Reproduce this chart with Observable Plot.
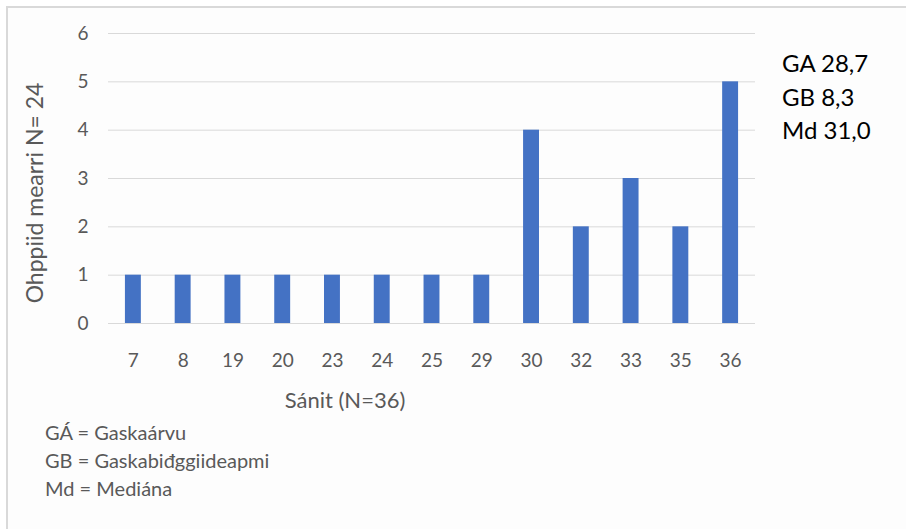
<!DOCTYPE html>
<html>
<head>
<meta charset="utf-8">
<script src="https://cdn.jsdelivr.net/npm/d3@7"></script>
<script src="https://cdn.jsdelivr.net/npm/@observablehq/plot@0.6"></script>
<style>
  html, body { margin: 0; padding: 0; background: #fff; }
  #wrap { position: relative; width: 906px; height: 529px; overflow: hidden; font-family: Lato, "Open Sans", sans-serif; color: #595959; }
  #frame { position: absolute; left: 6px; top: 6px; right: 0; bottom: 0; border-left: 2px solid #d9d9d9; border-top: 2px solid #d9d9d9; background: #fdfdfd; }
  #chart { position: absolute; left: 0; top: 0; }
  .txt { position: absolute; white-space: nowrap; line-height: 1; }
</style>
</head>
<body>
<div id="wrap">
  <div id="frame"></div>
  <div id="chart"></div>
  <div class="txt" id="ylab" style="left:34px; top:193px; font-size:23px; transform: translate(-50%,-50%) rotate(-90deg);">Ohppiid mearri N= 24</div>
  <div class="txt" style="left:345px; top:400px; font-size:22px; transform: translate(-50%,-50%);">Sánit (N=36)</div>
</div>
<script>
const categories = ["7","8","19","20","23","24","25","29","30","32","33","35","36"];
const counts = [1,1,1,1,1,1,1,1,4,2,3,2,5];
const yTicks = [0,1,2,3,4,5,6];
const stats = ["GA 28,7","GB 8,3","Md 31,0"];
const notes = ["GÁ = Gaskaárvu","GB = Gaskabiđggiideapmi","Md = Mediána"];

const data = categories.map((c, i) => ({cat: c, n: counts[i]}));

const chart = Plot.plot({
  width: 906,
  height: 529,
  marginLeft: 108,
  marginRight: 151,
  marginTop: 33,
  marginBottom: 206,
  style: {background: "transparent", fontFamily: "Lato, 'Open Sans', sans-serif", fontSize: "19px", color: "#595959"},
  x: {domain: categories, paddingInner: 0.68, paddingOuter: 0.34, round: false, label: null},
  y: {domain: [0, 6], label: null},
  marks: [
    Plot.gridY(yTicks, {stroke: "#d9d9d9", strokeOpacity: 1, strokeWidth: 1}),
    Plot.axisY({ticks: yTicks, tickFormat: "d", tickSize: 0, tickPadding: 20, label: null, fontSize: 19, fill: "#595959"}),
    Plot.axisX({tickSize: 0, tickPadding: 30, label: null, fontSize: 19, fill: "#595959"}),
    Plot.barY(data, {x: "cat", y: "n", fill: "#4472c4"})
  ]
});
document.getElementById("chart").appendChild(chart);

const wrap = document.getElementById("wrap");
const statY = [63, 97, 130];
stats.forEach((s, i) => {
  const d = document.createElement("div");
  d.className = "txt";
  d.style.cssText = `left:782px; top:${statY[i]}px; font-size:24px; color:#000; transform: translateY(-50%);`;
  d.textContent = s;
  wrap.appendChild(d);
});
const noteY = [432, 460, 488];
notes.forEach((s, i) => {
  const d = document.createElement("div");
  d.className = "txt";
  d.style.cssText = `left:45px; top:${noteY[i]}px; font-size:20px; transform: translateY(-50%);`;
  d.textContent = s;
  wrap.appendChild(d);
});
</script>
</body>
</html>
